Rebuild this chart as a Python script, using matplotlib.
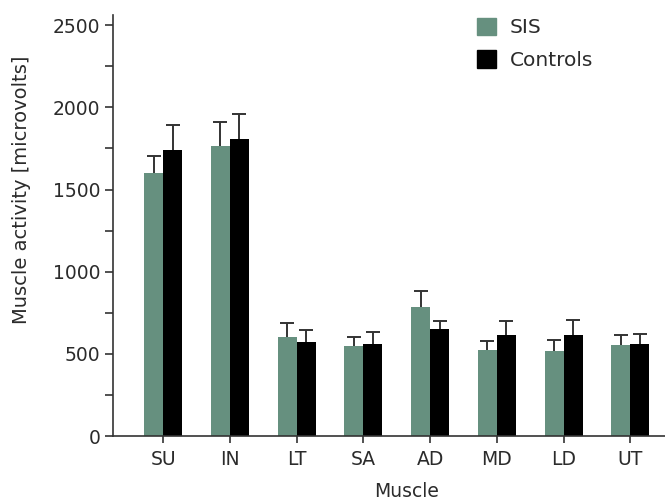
import numpy as np
import matplotlib
matplotlib.use('Agg')
import matplotlib.pyplot as plt
from matplotlib.patches import Patch
from matplotlib.ticker import MultipleLocator

plt.rcParams['font.family'] = ['DejaVu Sans']

muscles = ['SU', 'IN', 'LT', 'SA', 'AD', 'MD', 'LD', 'UT']
sis = [1601, 1765, 603, 545, 788, 526, 520, 551]
sis_err = [101, 146, 83, 59, 93, 51, 63, 61]
controls = [1741, 1808, 572, 561, 652, 616, 616, 557]
controls_err = [154, 150, 75, 71, 47, 83, 89, 61]

sis_color = '#66907f'
ink = '#2b2b2b'

x = np.arange(len(muscles))
w = 0.285

fig = plt.figure(figsize=(6.65, 5.03), dpi=100)
ax = fig.add_axes([0.170, 0.1332, 0.830, 0.837])

ax.bar(x - w / 2, sis, w, color=sis_color, label='SIS')
ax.bar(x + w / 2, controls, w, color='black', label='Controls')

# upper error bars only, hide the cap that would sit on top of the bar
for xs, vals, errs in [(x - w / 2, sis, sis_err), (x + w / 2, controls, controls_err)]:
    eb = ax.errorbar(xs, vals, yerr=[np.zeros(len(vals)), errs], fmt='none',
                     ecolor='#333333', elinewidth=1.4, capsize=4.8, capthick=1.4)
    eb[1][0].set_visible(False)

ax.set_xlim(-0.75, 7.52)
ax.set_ylim(0, 2562)
ax.set_xticks(x)
ax.set_xticklabels(muscles)
ax.yaxis.set_major_locator(MultipleLocator(500))
ax.yaxis.set_minor_locator(MultipleLocator(250))

for side in ['top', 'right']:
    ax.spines[side].set_visible(False)
for side in ['left', 'bottom']:
    ax.spines[side].set_color('#333333')
    ax.spines[side].set_linewidth(1.2)

ax.tick_params(axis='both', which='both', colors='#333333', width=1.2,
               labelcolor=ink, labelsize=13.5)
ax.tick_params(axis='y', which='major', length=6, pad=3)
ax.tick_params(axis='y', which='minor', length=5.5)
ax.tick_params(axis='x', length=5, pad=5)

ax.set_xlabel('Muscle', fontsize=13.5, color=ink, va='top')
ax.xaxis.set_label_coords(0.532, -0.1085)
ax.set_ylabel('Muscle activity [microvolts]', fontsize=14, color=ink)
ax.yaxis.set_label_coords(-0.148, 0.585)

handles = [Patch(color=sis_color), Patch(color='black')]
fig.legend(handles, ['SIS', 'Controls'], frameon=False, fontsize=14.5,
           handlelength=0.95, handleheight=0.95, handletextpad=0.7,
           labelspacing=0.65, borderpad=0, borderaxespad=0,
           loc='upper left', bbox_to_anchor=(0.717, 0.965),
           labelcolor=ink)

fig.savefig('out.png', dpi=100)
